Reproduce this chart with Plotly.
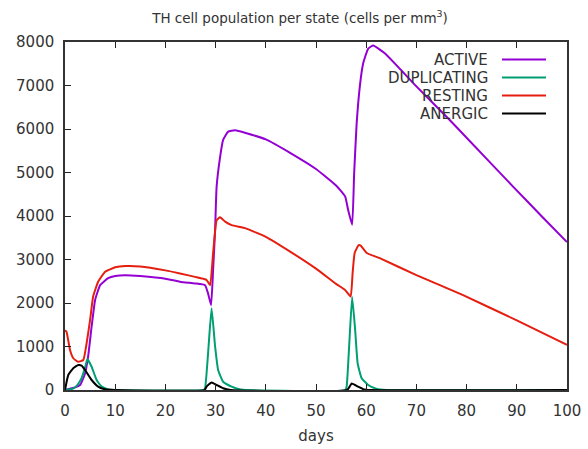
import plotly.graph_objects as go

# ---- data ----
series_names = ["ACTIVE", "DUPLICATING", "RESTING", "ANERGIC"]
series_colors = ["#9400d3", "#009e73", "#e51e10", "#000000"]

active_days = [0, 1.3, 2, 3, 4, 4.6, 5.3, 6, 7, 8.6, 10, 12, 15, 20, 22.9, 25.9, 27.9, 28.5, 29.1,
               29.5, 29.9, 30.2, 30.9, 31.5, 32.5, 33.9, 36, 40, 45, 50, 54, 55.8, 56.4, 57.2,
               57.6, 58.1, 58.8, 59.4, 60.4, 61.4, 63.7, 70, 76, 80, 89.3, 95, 100]
active_vals = [0, 40, 60, 115, 380, 765, 1455, 2070, 2410, 2570, 2620, 2640, 2620, 2560, 2490, 2450, 2410, 2220, 1950,
               2760, 3680, 4670, 5360, 5750, 5940, 5970, 5910, 5760, 5440, 5080, 4700, 4450, 4140, 3800,
               4980, 6130, 7050, 7510, 7850, 7920, 7740, 6980, 6280, 5800, 4670, 3990, 3400]

dup_days = [0, 1.6, 2.5, 3.3, 4.0, 4.45, 5.3, 6.3, 7.3, 8.6, 10, 27.6, 27.9, 28.6, 29.2, 29.9, 30.5, 31.5,
            33.2, 35, 55.8, 56.1, 56.6, 57.2, 57.8, 58.3, 59.1, 60.4, 62, 64, 100]
dup_vals = [0, 30, 120, 270, 520, 710, 535, 230, 77, 15, 0, 0, 40, 1000, 1880, 1000, 460, 190,
            77, 10, 0, 77, 1000, 2140, 1380, 610, 270, 115, 30, 0, 0]

rest_days = [0, 0.3, 1, 1.65, 2.6, 3.65, 4.3, 5, 5.6, 6.6, 8, 10, 12, 15, 20, 22.9, 25.9, 28.2, 28.9,
             29.5, 30.2, 30.9, 31.9, 33.2, 36, 40, 45, 50, 54, 55.8, 56.9, 57.3, 57.7, 58.5, 58.9,
             60.1, 62.7, 70, 79.3, 90, 100]
rest_vals = [1370, 1340, 920, 730, 650, 690, 1070, 1610, 2145, 2490, 2720, 2820, 2850, 2840, 2750, 2680, 2600, 2530, 2410,
             3140, 3900, 3970, 3870, 3790, 3715, 3520, 3170, 2790, 2440, 2300, 2150, 2700, 3150, 3330, 3320,
             3150, 3030, 2640, 2180, 1600, 1040]

anergic_days = [0, 0.65, 1.65, 2.65, 3.3, 4, 5.3, 6.6, 8, 10, 27.8, 28.2, 29.2, 30.2, 31.5, 33, 56.2,
                57.1, 58.4, 59.4, 61, 100]
anergic_vals = [0, 345, 500, 575, 560, 460, 230, 77, 15, 0, 0, 77, 175, 115, 40, 0, 0,
                150, 77, 20, 0, 0]

x_tick_vals = [0, 10, 20, 30, 40, 50, 60, 70, 80, 90, 100]
y_tick_vals = [0, 1000, 2000, 3000, 4000, 5000, 6000, 7000, 8000]

title_text = "TH cell population per state (cells per mm<sup>3</sup>)"
x_title = "days"

all_days = [active_days, dup_days, rest_days, anergic_days]
all_vals = [active_vals, dup_vals, rest_vals, anergic_vals]

FONT = "DejaVu Sans"
TXT = "#333333"

fig = go.Figure()
for name, col, xs, ys in zip(series_names, series_colors, all_days, all_vals):
    fig.add_trace(go.Scatter(x=xs, y=ys, mode="lines", name=name,
                             line=dict(color=col, width=2, shape="spline", smoothing=0.4),
                             showlegend=False))

# manual gnuplot-style legend (text right-aligned, sample on the right)
W, H = 588, 449
ml, mr, mt, mb = 65, 21, 42, 59
pw, ph = W - ml - mr, H - mt - mb
def px(xp):
    return (xp - ml) / pw
def py(yp):
    return (mt + ph - yp) / ph

legend_y = [59.5, 77.5, 95.5, 113.5]
for name, col, ly in zip(series_names, series_colors, legend_y):
    fig.add_annotation(x=px(490), y=py(ly), xref="paper", yref="paper", text=name,
                       showarrow=False, xanchor="right", yanchor="middle",
                       font=dict(family=FONT, size=15, color=TXT))
    fig.add_shape(type="line", xref="paper", yref="paper",
                  x0=px(502), x1=px(546), y0=py(ly), y1=py(ly),
                  line=dict(color=col, width=2))

fig.update_layout(
    width=W, height=H,
    margin=dict(l=ml, r=mr, t=mt, b=mb),
    paper_bgcolor="white", plot_bgcolor="white",
    font=dict(family=FONT, size=15, color=TXT),
    title=dict(text=title_text, xref="container", x=300 / W, xanchor="center",
               yref="container", y=1 - 18 / H, yanchor="middle",
               font=dict(family=FONT, size=13.5, color=TXT)),
)
fig.update_xaxes(range=[0, 100], tickvals=x_tick_vals, ticks="inside", ticklen=6,
                 tickcolor="#222", showline=True, linecolor="#333", linewidth=1.5,
                 mirror="ticks", showgrid=False, zeroline=False, automargin=False,
                 tickfont=dict(family=FONT, size=15, color=TXT), ticklabelstandoff=6,
                 title=dict(text=x_title, standoff=12, font=dict(family=FONT, size=15, color=TXT)))
fig.update_yaxes(range=[0, 8000], tickvals=y_tick_vals, ticks="inside", ticklen=6,
                 tickcolor="#222", showline=True, linecolor="#333", linewidth=1.5,
                 mirror=True, showgrid=False, zeroline=False, automargin=False,
                 tickfont=dict(family=FONT, size=15, color=TXT), ticklabelstandoff=6)

fig.write_html("out.html")
